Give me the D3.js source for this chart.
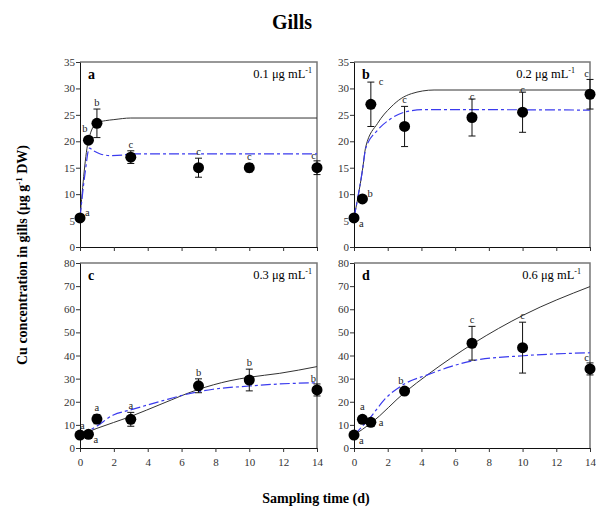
<!DOCTYPE html>
<html>
<head>
<meta charset="utf-8">
<script src="https://cdn.jsdelivr.net/npm/d3@7"></script>
<style>
  body { margin: 0; background: #fff; }
  text { font-family: "Liberation Serif", "DejaVu Serif", serif; }
</style>
</head>
<body>
<svg id="chart" width="596" height="508"></svg>
<script>
// sampling days (shared by all panels)
const days = [0, 0.5, 1, 3, 7, 10, 14];

// measured means, error bars and significance letters
const meanA = [5.5, 20.2, 23.4, 17.0, 15.0, 15.0, 15.0];
const errA = [0, 0, 2.7, 1.2, 1.8, 0.8, 1.3];
const letA = ['a', 'b', 'b', 'c', 'c', 'c', 'c'];

const meanB = [5.5, 9.1, 27.0, 22.8, 24.5, 25.5, 28.9];
const errB = [0, 0, 4.2, 3.8, 3.5, 3.8, 2.8];
const letB = ['a', 'b', 'c', 'c', 'c', 'c', 'c'];

const meanC = [5.6, 5.9, 12.5, 12.4, 26.9, 29.4, 25.1];
const errC = [0, 1.5, 2.0, 3.0, 3.0, 4.7, 2.6];
const letC = ['a', 'a', 'a', 'a', 'b', 'b', 'b'];

const meanD = [5.6, 12.4, 11.1, 24.6, 45.3, 43.4, 34.2];
const errD = [0, 0, 1.5, 1.2, 7.3, 11.0, 2.6];
const letD = ['a', 'a', 'a', 'b', 'c', 'c', 'c'];

// fitted model curves
const fitA_t = [0, 0.5, 1, 1.5, 2, 3, 14];
const fitA_black = [5.5, 20.2, 23.5, 23.9, 24.1, 24.4, 24.4];
const fitA_bt = [0, 0.3, 0.55, 0.8, 1.2, 1.8, 2.5, 3, 14];
const fitA_blue = [5.5, 14, 18.7, 18.2, 17.6, 17.3, 17.4, 17.6, 17.6];

const fitB_t = [0, 0.5, 0.7, 1.4, 2.2, 2.8, 3.4, 4.75, 14];
const fitB_black = [5.5, 14.5, 19.0, 23.4, 26.5, 28.1, 29.0, 29.7, 29.7];
const fitB_bt = [0, 0.5, 0.7, 1.4, 2.2, 3.1, 4.35, 14];
const fitB_blue = [5.5, 14.5, 18.7, 22.1, 24.3, 25.6, 26.0, 25.9];

const fitC_t = [0, 1, 2.95, 4.9, 6.9, 8.86, 10, 11.8, 14];
const fitC_black = [5.6, 8.5, 13.5, 19.3, 25.1, 29.1, 30.6, 32.3, 35.2];
const fitC_bt = [0, 1, 1.97, 2.95, 4.9, 6.1, 7.87, 10, 11.8, 14];
const fitC_blue = [5.6, 9.5, 14.3, 16.4, 20.5, 22.9, 25.4, 26.8, 27.7, 28.2];

const fitD_t = [0, 1, 3.07, 4.35, 7.1, 10.06, 14];
const fitD_black = [5.6, 10.7, 24.4, 31.6, 45.3, 57.5, 69.8];
const fitD_bt = [0, 1, 1.79, 3.07, 4.35, 5.73, 7.1, 10.06, 14];
const fitD_blue = [5.6, 13.5, 20.8, 28.0, 31.6, 35.2, 37.8, 39.9, 41.2];

// letter placement per point: up, ur, lr, ul, r, ue, uu, uc
const posA = ['ur', 'ul', 'up', 'up', 'up', 'up', 'ul'];
const posB = ['lr', 'ur', 'ue', 'up', 'uc', 'uc', 'ul'];
const posC = ['uu', 'lr', 'up', 'up', 'up', 'up', 'ul'];
const posD = ['lr', 'up', 'r', 'ul', 'up', 'up', 'ul'];

const xTicks = [0, 2, 4, 6, 8, 10, 12, 14];
const yTicksTop = [0, 5, 10, 15, 20, 25, 30, 35];
const yTicksBottom = [0, 10, 20, 30, 40, 50, 60, 70, 80];

const panels = [
  { id: 'a', conc: '0.1', mean: meanA, err: errA, let: letA, pos: posA, ft: fitA_t, fk: fitA_black, fbt: fitA_bt, fb: fitA_blue,
    x0: 80, x1: 317, y0: 62, y1: 247, ymax: 35, yt: yTicksTop, xlab: false, cpad: 5 },
  { id: 'b', conc: '0.2', mean: meanB, err: errB, let: letB, pos: posB, ft: fitB_t, fk: fitB_black, fbt: fitB_bt, fb: fitB_blue,
    x0: 354, x1: 590, y0: 62, y1: 247, ymax: 35, yt: yTicksTop, xlab: false, cpad: 15 },
  { id: 'c', conc: '0.3', mean: meanC, err: errC, let: letC, pos: posC, ft: fitC_t, fk: fitC_black, fbt: fitC_bt, fb: fitC_blue,
    x0: 80, x1: 317, y0: 263, y1: 448, ymax: 80, yt: yTicksBottom, xlab: true, cpad: 5 },
  { id: 'd', conc: '0.6', mean: meanD, err: errD, let: letD, pos: posD, ft: fitD_t, fk: fitD_black, fbt: fitD_bt, fb: fitD_blue,
    x0: 354, x1: 590, y0: 263, y1: 448, ymax: 80, yt: yTicksBottom, xlab: true, cpad: 9 }
];

const svg = d3.select('#chart');

svg.append('text')
  .attr('x', 292).attr('y', 29)
  .attr('text-anchor', 'middle')
  .attr('font-size', 20).attr('font-weight', 'bold')
  .text('Gills');

svg.append('text')
  .attr('transform', 'translate(27,255) rotate(-90)')
  .attr('text-anchor', 'middle')
  .attr('font-size', 14).attr('font-weight', 'bold')
  .text('Cu concentration in gills (μg g')
  .append('tspan').attr('dy', -5).attr('font-size', 9).text('-1')
  .clone(false).attr('dy', 5).attr('font-size', 14).text(' DW)');

svg.append('text')
  .attr('x', 316).attr('y', 503)
  .attr('text-anchor', 'middle')
  .attr('font-size', 14).attr('font-weight', 'bold')
  .text('Sampling time (d)');

panels.forEach(p => {
  const g = svg.append('g');
  const x = d3.scaleLinear().domain([0, 14]).range([p.x0, p.x1]);
  const y = d3.scaleLinear().domain([0, p.ymax]).range([p.y1, p.y0]);

  // frame: grey top/right
  g.append('path')
    .attr('d', `M${p.x0},${p.y0}H${p.x1}V${p.y1}`)
    .attr('fill', 'none').attr('stroke', '#777').attr('stroke-width', 1.5);

  const xAxis = g.append('g')
    .attr('transform', `translate(0,${p.y1})`)
    .call(d3.axisBottom(x).tickValues(xTicks).tickSize(4).tickSizeOuter(0)
      .tickFormat(p.xlab ? d3.format('d') : ''));
  const yAxis = g.append('g')
    .attr('transform', `translate(${p.x0},0)`)
    .call(d3.axisLeft(y).tickValues(p.yt).tickSize(4).tickSizeOuter(0));

  [xAxis, yAxis].forEach(ax => {
    ax.select('.domain').attr('stroke', '#111');
    ax.selectAll('.tick line').attr('stroke', '#333');
    ax.selectAll('text')
      .attr('font-family', '"Liberation Serif", serif')
      .attr('font-size', 11).attr('fill', '#333');
  });
  xAxis.selectAll('text').attr('dy', '1em');
  yAxis.selectAll('text').attr('x', -5);

  // fitted curves
  const line = d3.line().x(d => x(d[0])).y(d => y(d[1])).curve(d3.curveMonotoneX);
  g.append('path')
    .attr('d', line(p.ft.map((t, i) => [t, p.fk[i]])))
    .attr('fill', 'none').attr('stroke', '#333').attr('stroke-width', 1);
  g.append('path')
    .attr('d', line(p.fbt.map((t, i) => [t, p.fb[i]])))
    .attr('fill', 'none').attr('stroke', '#3a3aee').attr('stroke-width', 1.2)
    .attr('stroke-dasharray', '10,3,3,3');

  // error bars
  days.forEach((t, i) => {
    if (!p.err[i]) return;
    const cx = x(t), yt = y(p.mean[i] + p.err[i]), yb = y(p.mean[i] - p.err[i]);
    g.append('path')
      .attr('d', `M${cx},${yt}V${yb}M${cx - 3.5},${yt}H${cx + 3.5}M${cx - 3.5},${yb}H${cx + 3.5}`)
      .attr('stroke', '#111').attr('stroke-width', 1).attr('fill', 'none');
  });

  // points
  g.selectAll('circle.pt').data(days).join('circle')
    .attr('class', 'pt')
    .attr('cx', d => x(d))
    .attr('cy', (d, i) => y(p.mean[i]))
    .attr('r', 5.5)
    .attr('fill', '#000');

  // letters
  days.forEach((t, i) => {
    const cx = x(t), cy = y(p.mean[i]);
    const top = p.err[i] ? y(p.mean[i] + p.err[i]) : cy - 6;
    let tx = cx, ty = top - 3, anchor = 'middle';
    switch (p.pos[i]) {
      case 'ur': tx = cx + 5; ty = cy - 2; anchor = 'start'; break;
      case 'lr': tx = cx + 5; ty = cy + 9; anchor = 'start'; break;
      case 'ul': tx = cx - 1; ty = Math.min(top, cy - 5) - 2; anchor = 'end'; break;
      case 'r': tx = cx + 8; ty = cy + 4; anchor = 'start'; break;
      case 'ue': tx = cx + 8; ty = top + 3; anchor = 'start'; break;
      case 'uu': tx = cx; ty = cy - 6; anchor = 'start'; break;
      case 'uc': ty = top + 1; break;
    }
    g.append('text')
      .attr('x', tx).attr('y', ty)
      .attr('text-anchor', anchor)
      .attr('font-size', 10.5).attr('fill', '#222')
      .text(p.let[i]);
  });

  // panel letter and concentration
  g.append('text')
    .attr('x', p.x0 + 8).attr('y', p.y0 + 17)
    .attr('font-size', 14).attr('font-weight', 'bold')
    .text(p.id);
  const conc = g.append('text')
    .attr('x', p.x1 - p.cpad).attr('y', p.y0 + 15.5)
    .attr('text-anchor', 'end')
    .attr('font-size', 12.5)
    .text(p.conc + ' μg mL');
  conc.append('tspan').attr('dy', -5).attr('font-size', 8).text('-1');
});
</script>
</body>
</html>
